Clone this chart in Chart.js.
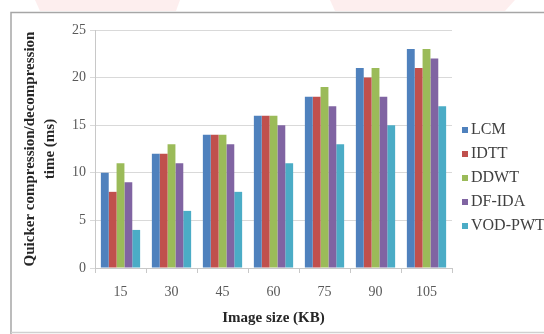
<!DOCTYPE html>
<html>
<head>
<meta charset="utf-8">
<script src="https://cdn.jsdelivr.net/npm/chart.js@4/dist/chart.umd.min.js"></script>
<style>
  html, body { margin: 0; padding: 0; background: #ffffff; }
  #wrap { width: 544px; height: 334px; position: relative; }
</style>
</head>
<body>
<div id="wrap"><canvas id="c" width="544" height="334"></canvas></div>
<script>
// Image sizes (KB) on the x axis
const categories = ['15', '30', '45', '60', '75', '90', '105'];

// Compression/decompression time (ms) per method
const lcm    = [10, 12, 14, 16, 18, 21, 23];
const idtt   = [8, 12, 14, 16, 18, 20, 21];
const ddwt   = [11, 13, 14, 16, 19, 21, 23];
const dfIda  = [9, 11, 13, 15, 17, 18, 22];
const vodPwt = [4, 6, 8, 11, 13, 15, 17];

const seriesNames = ['LCM', 'IDTT', 'DDWT', 'DF-IDA', 'VOD-PWT'];
const seriesColors = ['#4F81BD', '#C0504D', '#9BBB59', '#8064A2', '#4BACC6'];
const seriesValues = [lcm, idtt, ddwt, dfIda, vodPwt];

const yTitle = ['Quicker compression/decompression', 'time (ms)'];
const xTitle = 'Image size (KB)';

const SERIF = '"Liberation Serif", "DejaVu Serif", serif';

// Page frame and faint letterhead marks behind the chart
const framePlugin = {
  id: 'frame',
  beforeDraw(chart) {
    const ctx = chart.ctx;
    ctx.save();
    ctx.fillStyle = '#ffffff';
    ctx.fillRect(0, 0, chart.width, chart.height);
    ctx.fillStyle = 'rgba(240, 150, 150, 0.16)';
    ctx.beginPath();
    ctx.moveTo(35, 0); ctx.lineTo(180, 0); ctx.lineTo(176, 11); ctx.lineTo(40, 11);
    ctx.closePath(); ctx.fill();
    ctx.beginPath();
    ctx.moveTo(330, 0); ctx.lineTo(515, 0); ctx.lineTo(505, 11); ctx.lineTo(335, 11);
    ctx.closePath(); ctx.fill();
    ctx.strokeStyle = '#a6a6a6';
    ctx.lineWidth = 1.5;
    ctx.beginPath();
    ctx.moveTo(544, 12.5); ctx.lineTo(11, 12.5); ctx.lineTo(11, 334);
    ctx.stroke();
    ctx.strokeStyle = '#d0d0d0';
    ctx.beginPath();
    ctx.moveTo(11, 332.5); ctx.lineTo(544, 332.5);
    ctx.stroke();
    ctx.restore();
  }
};

// Legend drawn as a vertical list to the right of the plot
const sideLegend = {
  id: 'sideLegend',
  afterDraw(chart) {
    const ctx = chart.ctx;
    ctx.save();
    ctx.font = '16px ' + SERIF;
    ctx.textBaseline = 'middle';
    ctx.textAlign = 'left';
    chart.data.datasets.forEach((ds, i) => {
      const y = 130 + i * 24;
      ctx.fillStyle = ds.backgroundColor;
      ctx.fillRect(462, y - 3, 6, 6);
      ctx.fillStyle = '#404040';
      ctx.fillText(ds.label, 471, y);
    });
    ctx.restore();
  }
};

new Chart(document.getElementById('c'), {
  type: 'bar',
  data: {
    labels: categories,
    datasets: seriesNames.map((name, i) => ({
      label: name,
      data: seriesValues[i],
      backgroundColor: seriesColors[i],
      borderWidth: 0,
      categoryPercentage: 0.77,
      barPercentage: 1.0
    }))
  },
  options: {
    responsive: false,
    animation: false,
    layout: { padding: { left: 0, right: 92, top: 30, bottom: 0 } },
    plugins: {
      legend: { display: false },
      tooltip: { enabled: false }
    },
    scales: {
      x: {
        offset: true,
        grid: {
          display: true,
          drawOnChartArea: false,
          offset: true,
          tickLength: 5,
          color: '#c8c8c8'
        },
        border: { color: '#c8c8c8' },
        ticks: {
          color: '#595959',
          font: { family: SERIF, size: 14 },
          padding: 11
        },
        title: {
          display: true,
          text: xTitle,
          color: '#262626',
          font: { family: SERIF, size: 15, weight: 'bold', lineHeight: 1.3333 },
          padding: { top: 0, bottom: 6 }
        },
        afterFit(scale) { scale.height = 66; }
      },
      y: {
        min: 0,
        max: 25,
        ticks: {
          stepSize: 5,
          color: '#595959',
          font: { family: SERIF, size: 14 },
          padding: 4
        },
        grid: {
          color: '#d9d9d9',
          tickLength: 5,
          lineWidth: 1
        },
        border: { color: '#c8c8c8' },
        title: {
          display: true,
          text: yTitle,
          color: '#262626',
          font: { family: SERIF, size: 15, weight: 'bold', lineHeight: 1.3333 },
          padding: { top: 20, bottom: 0 }
        },
        afterFit(scale) { scale.width = 95; }
      }
    }
  },
  plugins: [framePlugin, sideLegend]
});
</script>
</body>
</html>
